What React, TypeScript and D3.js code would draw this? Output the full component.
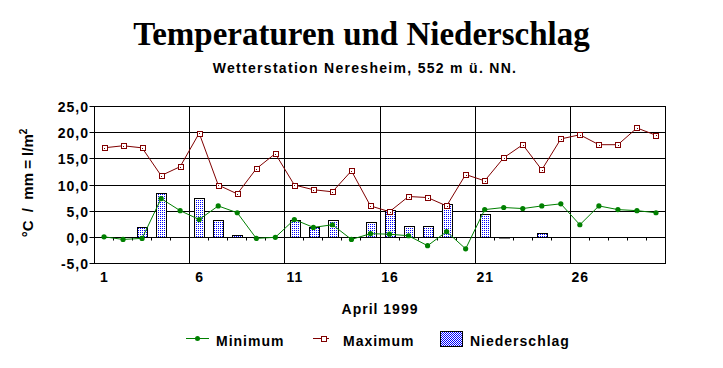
import React from "react";
import * as d3 from "d3";

const days: number[] = [1,2,3,4,5,6,7,8,9,10,11,12,13,14,15,16,17,18,19,20,21,22,23,24,25,26,27,28,29,30];
const minTemp: number[] = [0.1,-0.4,-0.2,7.4,5.1,3.4,6.0,4.7,-0.2,0.0,3.4,1.9,2.4,-0.4,0.7,0.6,0.3,-1.6,1.1,-2.2,5.3,5.7,5.5,6.0,6.4,2.4,6.0,5.3,5.1,4.7];
const maxTemp: number[] = [17.1,17.5,17.1,11.8,13.5,19.9,10.0,8.3,13.1,16.0,10.0,9.1,8.7,12.7,6.0,4.9,7.8,7.6,6.0,12.0,10.8,15.2,17.7,12.9,18.8,19.6,17.7,17.7,20.9,19.5];
const precip: number[] = [0,0,1.9,8.5,0,7.6,3.4,0.5,0,0,3.4,1.9,3.4,0,3.0,5.3,2.2,2.2,6.4,0,4.5,0.15,0,0.8,0,0,0,0,0,0];
const yTicks: number[] = [-5,0,5,10,15,20,25];
const xLabelDays: number[] = [1,6,11,16,21,26];
const gridDays: number[] = [6,11,16,21,26];

const FONT = "'Liberation Sans', Arial, sans-serif";

export default function App() {
  const W = 723, H = 368;
  const left = 94.5, right = 665.5, top = 106.5, bottom = 263.5;
  const x = d3.scaleBand<number>().domain(days).range([left, right]).padding(0);
  const y = d3.scaleLinear().domain([-5, 25]).range([bottom, top]);
  const bw = x.bandwidth();
  const cx = (d: number) => (x(d) as number) + bw / 2;
  const y0 = Math.round(y(0) - 0.5) + 0.5;

  const minLine = d3.line<number>().x((_, i) => cx(days[i])).y((v) => y(v));
  const maxLine = d3.line<number>().x((_, i) => cx(days[i])).y((v) => y(v));
  const fmt = (v: number) => v.toFixed(1).replace(".", ",");
  const barW = bw * 0.5;

  const tickStyle: React.CSSProperties = { fontFamily: FONT, fontWeight: 700, fontSize: 14, letterSpacing: 1 };

  return (
    <svg width={W} height={H} style={{ position: "absolute", left: 0, top: 0, background: "#fff" }}>
      <defs>
        <pattern id="dots" width={2} height={2} patternUnits="userSpaceOnUse">
          <rect width={2} height={2} fill="#fff" />
          <rect x={0} y={0} width={1} height={1} fill="#0000ff" />
        </pattern>
        <pattern id="dotsLeg" width={2} height={2} patternUnits="userSpaceOnUse">
          <rect width={2} height={2} fill="#fff" />
          <rect x={0} y={0} width={1} height={1} fill="#0000ff" />
          <rect x={1} y={1} width={1} height={1} fill="#0000ff" />
        </pattern>
      </defs>
      <rect width={W} height={H} fill="#fff" />
      <text x={361.5} y={45} textAnchor="middle" style={{ fontFamily: "'Liberation Serif', 'Times New Roman', serif", fontWeight: 700, fontSize: 33 }}>
        Temperaturen und Niederschlag
      </text>
      <text x={365} y={73} textAnchor="middle" style={{ fontFamily: FONT, fontWeight: 700, fontSize: 14, letterSpacing: 1.3 }}>
        Wetterstation Neresheim, 552 m ü. NN.
      </text>

      {yTicks.map((t) => {
        const yy = Math.round(y(t) - 0.5) + 0.5;
        return (
          <g key={t}>
            <line x1={left - 5} x2={right} y1={yy} y2={yy} stroke="#000" strokeWidth={1} />
            <text x={89} y={yy + 5} textAnchor="end" style={tickStyle}>{fmt(t)}</text>
          </g>
        );
      })}
      {gridDays.map((d) => {
        const xx = Math.round((x(d) as number) - 0.5) + 0.5;
        return <line key={d} x1={xx} x2={xx} y1={top} y2={bottom} stroke="#000" strokeWidth={1} />;
      })}
      {days.slice(1).map((d) => {
        const xx = Math.round((x(d) as number) - 0.5) + 0.5;
        return <line key={d} x1={xx} x2={xx} y1={y0} y2={y0 + 3} stroke="#000" strokeWidth={1} />;
      })}
      <rect x={left} y={top} width={right - left} height={bottom - top} fill="none" stroke="#000" strokeWidth={1} />

      {precip.map((v, i) => {
        if (v <= 0) return null;
        const xx = Math.round(cx(days[i]) - barW / 2) + 0.5;
        const yy = Math.round(y(v)) + 0.5;
        return <rect key={i} x={xx} y={yy} width={Math.round(barW)} height={Math.max(y0 - yy, 0.5)} fill="url(#dots)" stroke="#000" strokeWidth={1} />;
      })}

      <path d={minLine(minTemp) || ""} fill="none" stroke="#008000" strokeWidth={1} />
      {minTemp.map((v, i) => (
        <circle key={i} cx={cx(days[i])} cy={y(v)} r={2.6} fill="#008000" />
      ))}
      <path d={maxLine(maxTemp) || ""} fill="none" stroke="#800000" strokeWidth={1} />
      {maxTemp.map((v, i) => (
        <g key={i}>
          <rect x={Math.round(cx(days[i]) - 2.5) + 0.5} y={Math.round(y(v) - 2.5) + 0.5} width={5} height={5} fill="#fff" stroke="#800000" strokeWidth={1} />
          <rect x={Math.round(cx(days[i]))} y={Math.round(y(v))} width={1} height={1} fill="#800000" />
        </g>
      ))}

      {xLabelDays.map((d) => (
        <text key={d} x={cx(d) + 0.5} y={282} textAnchor="middle" style={tickStyle}>{d}</text>
      ))}
      <text x={380} y={314} textAnchor="middle" style={tickStyle}>April 1999</text>

      <text transform="translate(33,183) rotate(-90)" textAnchor="middle" style={{ fontFamily: FONT, fontWeight: 700, fontSize: 15, whiteSpace: "pre" }}>
        {"°C  /  mm = l/m"}<tspan dy={-6} style={{ fontSize: 10 }}>2</tspan>
      </text>

      <line x1={186} x2={209} y1={338.5} y2={338.5} stroke="#008000" strokeWidth={1} />
      <circle cx={197.5} cy={338.5} r={2.5} fill="#008000" />
      <text x={216} y={346} style={tickStyle}>Minimum</text>
      <line x1={313} x2={329} y1={338.5} y2={338.5} stroke="#800000" strokeWidth={1} />
      <rect x={321.5} y={336.5} width={5} height={5} fill="#fff" stroke="#800000" strokeWidth={1} />
      <text x={343} y={346} style={tickStyle}>Maximum</text>
      <rect x={440.5} y={331.5} width={22} height={15} fill="url(#dotsLeg)" stroke="#000" strokeWidth={1} />
      <text x={470} y={346} style={tickStyle}>Niederschlag</text>
    </svg>
  );
}
